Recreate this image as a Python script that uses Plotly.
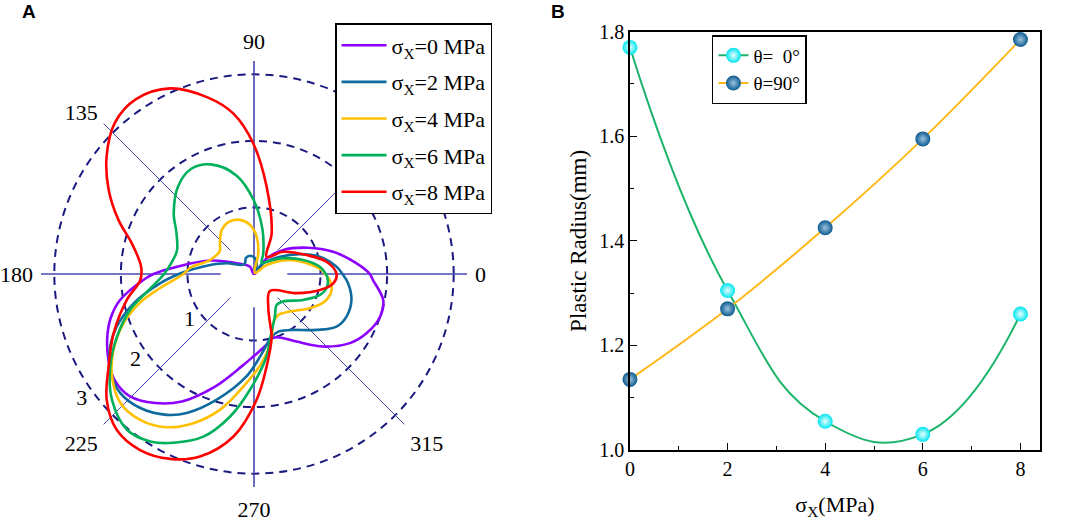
import plotly.graph_objects as go

SERIF = "Liberation Serif, Times New Roman, serif"

# ---------- Panel A data (angle in degrees, radius in plot units) ----------
THETA_S0 = [0, 5.9, 15.7, 26, 39.3, 51, 85, 118.7, 148, 163, 174.6, 180, 183, 191,
            197, 203.3, 210.6, 217, 224.3, 232.6, 240.5, 250.9, 262.4, 269.5, 280.1, 286.7,
            292.3, 302.2, 313.6, 324.2, 332.2, 341.3, 348.6, 357.1, 360]
R_S0 = [1.74, 1.55, 1.235, 0.9, 0.57, 0.30, 0.0, 0.125, 0.305, 0.69, 1.16, 1.51, 1.66, 2.05,
        2.25, 2.40, 2.54, 2.63, 2.62, 2.44, 2.20, 1.79, 1.40, 1.24, 1.08, 1.00,
        1.03, 1.20, 1.505, 1.775, 1.91, 2.0, 1.98, 1.79, 1.74]

THETA_S2 = [0, 5, 14.7, 23.5, 33.6, 49, 62, 73, 86, 102, 117, 130, 143.8, 158.6, 170, 176.4, 180,
            185.7, 193.7, 201, 206.8, 213.7, 221.7, 229.7, 238.2, 244.2, 253.5, 265.9, 275, 285,
            292.8, 302.7, 318.2, 327.5, 335.3, 345.1, 354.4, 360]
R_S2 = [1.33, 1.245, 1.02, 0.75, 0.47, 0.21, 0.04, 0.14, 0.236, 0.28, 0.27, 0.21, 0.23, 0.44, 0.72, 0.96, 1.13,
        1.42, 1.86, 2.21, 2.42, 2.60, 2.69, 2.64, 2.49, 2.32, 1.97, 1.54, 1.22, 0.99,
        0.94, 1.0, 1.26, 1.47, 1.53, 1.515, 1.42, 1.33]

THETA_S4 = [0, 3.4, 11.5, 23.2, 35.3, 55, 78.3, 85.9, 94.7, 104.5, 116.2, 126.3, 137.9, 146, 162,
            173.8, 180, 188.6, 194, 200.7, 208.4, 215.8, 224, 232, 240.3, 247.9, 256, 264.6, 276.2,
            285.8, 291.4, 300.7, 313.7, 328.5, 338.7, 348.4, 355.5, 360]
R_S4 = [1.07, 1.017, 0.81, 0.53, 0.233, 0.02, 0.32, 0.56, 0.74, 0.84, 0.87, 0.82, 0.69, 0.62, 0.69,
        0.95, 1.06, 1.43, 1.76, 2.095, 2.40, 2.63, 2.79, 2.78, 2.65, 2.42, 2.10, 1.70, 1.30,
        0.98, 0.79, 0.715, 0.78, 0.985, 1.14, 1.19, 1.14, 1.07]

THETA_S6 = [0, 6.3, 15.9, 28.2, 44, 55, 65.8, 79.5, 90, 100, 111.5, 121, 131, 143, 152, 163, 172, 180,
            188.7, 196.2, 204.5, 212.8, 221.5, 230.8, 238.2, 244.5, 252.7, 260.5, 268, 278.7,
            286, 296.2, 306.2, 316.6, 332.2, 342.4, 350.2, 357.9, 360]
R_S6 = [1.08, 0.995, 0.77, 0.50, 0.265, 0.2, 0.34, 0.69, 1.1, 1.5, 1.77, 1.84, 1.74, 1.51, 1.32, 1.21, 1.25, 1.35,
        1.60, 1.94, 2.26, 2.57, 2.85, 3.02, 2.96, 2.81, 2.56, 2.17, 1.74, 1.25,
        0.935, 0.71, 0.576, 0.60, 0.835, 1.04, 1.115, 1.10, 1.08]

THETA_S8 = [0, 9.6, 19.8, 37.3, 53.8, 66.5, 81.7, 90.3, 97.3, 104.9, 114.3, 124, 132.5, 141.5, 150,
            158.3, 166, 176.3, 183, 191.5, 202.9, 212.5, 220.5, 228.6, 237.1, 245.6, 253.5,
            262.8, 271.2, 277.8, 285.7, 288, 293.6, 313.3, 335.7, 346.4, 353.3, 360]
R_S8 = [1.24, 1.105, 0.84, 0.55, 0.32, 0.665, 1.32, 1.96, 2.43, 2.75, 3.06, 3.17, 3.09, 2.83, 2.52,
        2.19, 1.89, 1.70, 1.71, 1.95, 2.29, 2.59, 2.91, 3.12, 3.15, 3.05, 2.86,
        2.46, 1.89, 1.40, 0.98, 0.78, 0.535, 0.35, 0.70, 1.02, 1.20, 1.24]

POLAR_NAMES = ["σ<sub>X</sub>=0 MPa", "σ<sub>X</sub>=2 MPa", "σ<sub>X</sub>=4 MPa",
               "σ<sub>X</sub>=6 MPa", "σ<sub>X</sub>=8 MPa"]
POLAR_COLORS = ["#8B00FF", "#0F6A9E", "#FFC000", "#00B05A", "#FF0000"]

ANGLE_TICKS = [0, 45, 90, 135, 180, 225, 270, 315]
ANGLE_TEXT = ["0", "", "90", "135", "180", "225", "270", "315"]
RADIAL_TICKS = [1, 2, 3]
RADIAL_TEXT = ["1", "2", "3"]

# ---------- Panel B data ----------
SIGMA_X = [0, 2, 4, 6, 8]
R_THETA0 = [1.77, 1.305, 1.055, 1.03, 1.26]
R_THETA90 = [1.135, 1.27, 1.425, 1.595, 1.785]

fig = go.Figure()

SPOKE_COLOR = "#4848B0"
for a in ANGLE_TICKS:
    r0 = 0.0 if a == 90 else 0.5
    w = 1.6 if a % 90 == 0 else 1.0
    fig.add_trace(go.Scatterpolar(r=[r0, 3.2], theta=[a, a], mode="lines",
                                  line=dict(color=SPOKE_COLOR, width=w),
                                  showlegend=False, hoverinfo="skip", subplot="polar"))

# radial tick labels, placed beside the 225 degree spoke
fig.add_trace(go.Scatterpolar(r=[v + 0.2 for v in RADIAL_TICKS], theta=[216] * len(RADIAL_TICKS),
                              mode="text", text=RADIAL_TEXT, textposition="middle center",
                              textfont=dict(family=SERIF, size=22, color="black"),
                              showlegend=False, hoverinfo="skip", subplot="polar"))

polar_data = [(THETA_S0, R_S0), (THETA_S2, R_S2), (THETA_S4, R_S4), (THETA_S6, R_S6), (THETA_S8, R_S8)]
for i, ((th, rr), name, col) in enumerate(zip(polar_data, POLAR_NAMES, POLAR_COLORS)):
    fig.add_trace(go.Scatterpolar(r=rr, theta=th, mode="lines", name=name,
                                  line=dict(color=col, width=2.6, shape="spline", smoothing=1.0),
                                  legend="legend", legendgroup=f"g{i}", subplot="polar"))

fig.add_trace(go.Scatter(x=SIGMA_X, y=R_THETA0, mode="lines+markers", name="θ=\u00a0\u00a00°",
                         line=dict(color="#1DB56C", width=2, shape="spline", smoothing=1.3),
                         marker=dict(size=15, color="#00E5F0", gradient=dict(type="radial", color="#E8FFFF")),
                         cliponaxis=False, legend="legend2", xaxis="x", yaxis="y"))
fig.add_trace(go.Scatter(x=SIGMA_X, y=R_THETA90, mode="lines+markers", name="θ=90°",
                         line=dict(color="#FFB818", width=2, shape="spline", smoothing=1.0),
                         marker=dict(size=15, color="#0B5A8E", gradient=dict(type="radial", color="#9CC3E0")),
                         cliponaxis=False, legend="legend2", xaxis="x", yaxis="y"))

fig.update_layout(
    width=1065, height=524,
    margin=dict(l=0, r=0, t=0, b=0, autoexpand=False),
    paper_bgcolor="white", plot_bgcolor="white",
    font=dict(family=SERIF, size=21, color="black"),
    polar=dict(
        domain=dict(x=[0.0385, 0.4385], y=[0.0706, 0.8836]),
        bgcolor="white",
        radialaxis=dict(range=[0, 3.2], tickvals=RADIAL_TICKS, showticklabels=False,
                        showline=False, ticks="", angle=225,
                        showgrid=True, gridcolor="#1A1A80", gridwidth=1.6, griddash="8px,6px"),
        angularaxis=dict(tickvals=ANGLE_TICKS, ticktext=ANGLE_TEXT, showgrid=False, showline=False,
                         ticks="outside", ticklen=3, tickcolor="rgba(0,0,0,0)",
                         rotation=0, direction="counterclockwise",
                         tickfont=dict(family=SERIF, size=22)),
    ),
    xaxis=dict(domain=[0.5915, 0.9765], anchor="y", range=[0, 8.4], tickvals=SIGMA_X,
               ticks="inside", ticklen=7, tickwidth=1.3, tickcolor="black",
               minor=dict(tickvals=[1, 3, 5, 7], ticklen=4, ticks="inside", tickcolor="black", tickwidth=1.2),
               showline=True, linecolor="black", linewidth=1.5, mirror=True,
               showgrid=False, zeroline=False, automargin=False,
               title=dict(text="σ<sub>X</sub>(MPa)", font=dict(size=22), standoff=18),
               tickfont=dict(size=20)),
    yaxis=dict(domain=[0.1412, 0.9395], anchor="x", range=[1.0, 1.8],
               tickvals=[1.0, 1.2, 1.4, 1.6, 1.8], tickformat=".1f",
               ticks="inside", ticklen=7, tickwidth=1.3, tickcolor="black",
               minor=dict(tickvals=[1.1, 1.3, 1.5, 1.7], ticklen=4, ticks="inside", tickcolor="black", tickwidth=1.2),
               showline=True, linecolor="black", linewidth=1.5, mirror=True,
               showgrid=False, zeroline=False, automargin=False,
               title=dict(text="Plastic Radius(mm)", font=dict(size=23), standoff=6),
               tickfont=dict(size=20)),
    legend=dict(x=0.3146, y=0.9561, xanchor="left", yanchor="top", bgcolor="white",
                bordercolor="black", borderwidth=1.5, tracegroupgap=5, itemwidth=45,
                font=dict(family=SERIF, size=22), traceorder="grouped"),
    legend2=dict(x=0.6685, y=0.9332, xanchor="left", yanchor="top", bgcolor="white",
                 bordercolor="black", borderwidth=1.5,
                 font=dict(family=SERIF, size=19)),
    annotations=[
        dict(text="<b>A</b>", x=28.5 / 1065, y=1 - 11.5 / 524, xref="paper", yref="paper",
             xanchor="center", yanchor="middle",
             showarrow=False, font=dict(family="Liberation Sans, Arial", size=19)),
        dict(text="<b>B</b>", x=558 / 1065, y=1 - 11.5 / 524, xref="paper", yref="paper",
             xanchor="center", yanchor="middle",
             showarrow=False, font=dict(family="Liberation Sans, Arial", size=19)),
    ],
)

fig.write_html("out.html", config={"displayModeBar": False},
               post_script="document.body.style.margin='0px';document.body.style.overflow='hidden';")
